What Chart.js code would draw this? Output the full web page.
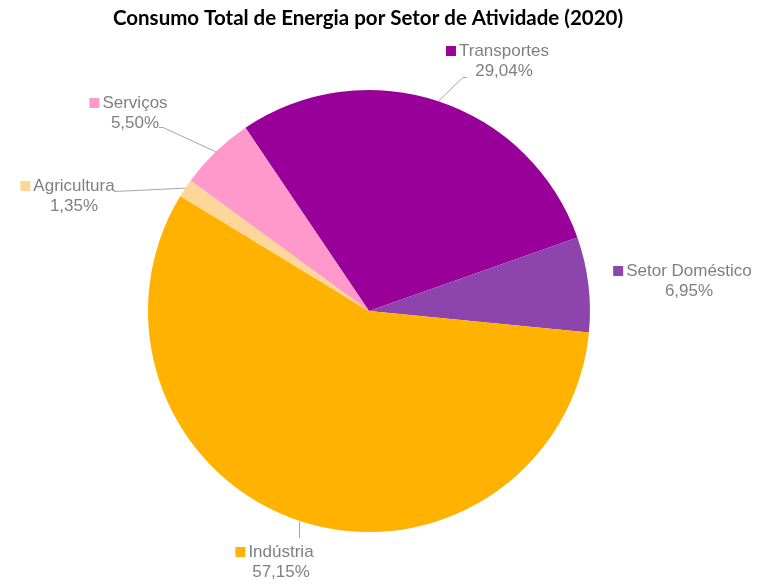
<!DOCTYPE html>
<html>
<head>
<meta charset="utf-8">
<script src="https://cdn.jsdelivr.net/npm/chart.js@4"></script>
<style>
    body { margin: 0; background: #fff; }
    #energyChart { display: block; }
</style>
</head>
<body>
<canvas id="energyChart" width="760" height="585"></canvas>
<script>
// Data
const sectors = ['Transportes', 'Setor Doméstico', 'Indústria', 'Agricultura', 'Serviços'];
const shares = [29.04, 6.95, 57.15, 1.35, 5.50];
const sectorColors = ['#990099', '#8E44AD', '#FFB300', '#FFD699', '#FF99CC'];

const chartTitle = 'Consumo Total de Energia por Setor de Atividade (2020)';

// Where each outside label sits (text centre, first line y) and where its leader line ends
const labelLayout = [
    { x: 504, y: 51, leader: [[467, 77], [463, 77]] },
    { x: 689, y: 271, leader: null },
    { x: 281, y: 552, leader: 'vertical', endY: 538 },
    { x: 74, y: 186, leader: [[114, 191]] },
    { x: 135, y: 103, leader: [[159, 127], [163, 127]] }
];

function formatShare(v) {
    return v.toFixed(2).replace('.', ',') + '%';
}

// Draws the title and the outside labels with their leader lines
const outsideLabels = {
    id: 'outsideLabels',
    afterDraw(chart) {
        const ctx = chart.ctx;
        ctx.save();

        ctx.fillStyle = '#000';
        ctx.font = 'bold 20.5px Lato';
        ctx.textAlign = 'center';
        ctx.textBaseline = 'middle';
        ctx.fillText(chartTitle, 368, 18);

        const arcs = chart.getDatasetMeta(0).data;
        arcs.forEach((arc, i) => {
            const pos = labelLayout[i];
            const mid = (arc.startAngle + arc.endAngle) / 2;
            const ex = arc.x + Math.cos(mid) * arc.outerRadius;
            const ey = arc.y + Math.sin(mid) * arc.outerRadius;

            // leader line
            ctx.strokeStyle = '#A6A6A6';
            ctx.lineWidth = 1;
            if (pos.leader === 'vertical') {
                ctx.beginPath();
                ctx.moveTo(Math.round(ex) + 0.5, ey + 1);
                ctx.lineTo(Math.round(ex) + 0.5, pos.endY);
                ctx.stroke();
            } else if (pos.leader) {
                ctx.beginPath();
                ctx.moveTo(ex, ey);
                pos.leader.slice().reverse().forEach(p => ctx.lineTo(p[0], p[1] + 0.5));
                ctx.stroke();
            }

            // label text
            ctx.font = '17px "Liberation Sans", Arial';
            ctx.fillStyle = '#808080';
            ctx.textAlign = 'center';
            ctx.textBaseline = 'middle';
            const name = sectors[i];
            const w = ctx.measureText(name).width;
            ctx.fillText(name, pos.x, pos.y);
            ctx.fillText(formatShare(shares[i]), pos.x, pos.y + 20);

            // colour square
            ctx.fillStyle = sectorColors[i];
            ctx.fillRect(pos.x - w / 2 - 13, pos.y - 5, 10, 10);
        });
        ctx.restore();
    }
};

const energyChart = new Chart(document.getElementById('energyChart'), {
    type: 'pie',
    data: {
        labels: sectors,
        datasets: [{
            data: shares,
            backgroundColor: sectorColors,
            borderWidth: 0
        }]
    },
    options: {
        responsive: false,
        animation: false,
        rotation: -34,
        layout: {
            padding: { top: 90, bottom: 53, left: 148, right: 170 }
        },
        plugins: {
            legend: { display: false },
            title: { display: false },
            tooltip: { enabled: false }
        }
    },
    plugins: [outsideLabels]
});
</script>
</body>
</html>
